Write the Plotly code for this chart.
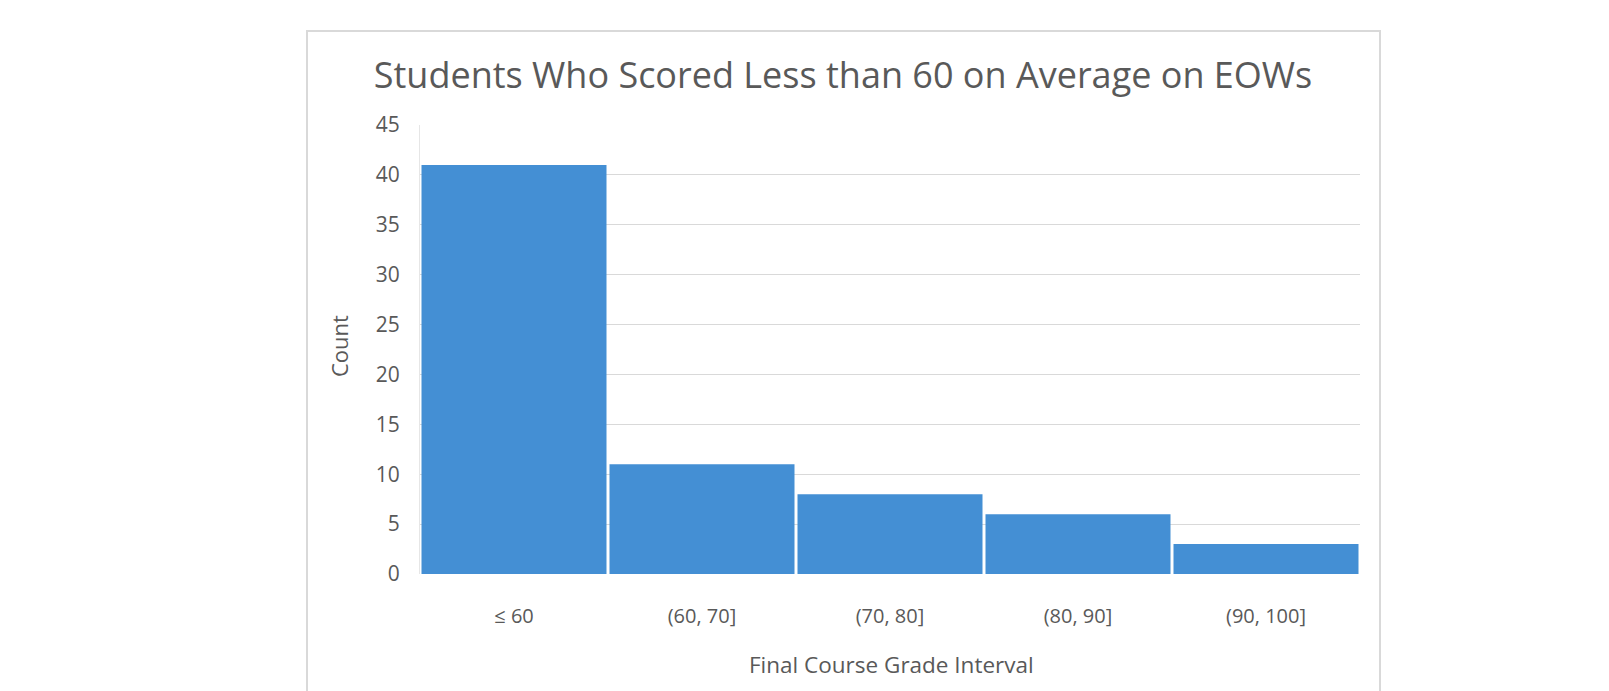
import plotly.graph_objects as go

categories = ["≤ 60", "(60, 70]", "(70, 80]", "(80, 90]", "(90, 100]"]
counts = [41, 11, 8, 6, 3]
y_ticks = [0, 5, 10, 15, 20, 25, 30, 35, 40, 45]

W, H = 1609, 691
L, R, T, B = 420, 1360, 125, 574
pw, ph = R - L, B - T

def px_x(x):
    return (x - L) / pw

def px_y(y):
    return (B - y) / ph

fig = go.Figure(go.Bar(
    x=categories, y=counts,
    marker=dict(color="#448fd4", line=dict(width=0)),
    hoverinfo="x+y",
))

font = "Open Sans"
grey = "#595959"
fig.update_layout(
    width=W, height=H,
    margin=dict(l=L, r=W - R, t=T, b=H - B),
    paper_bgcolor="white", plot_bgcolor="white",
    bargap=0.016,
    showlegend=False,
    title=dict(text="Students Who Scored Less than 60 on Average on EOWs",
               x=843 / W, xanchor="center", y=1 - 75 / H, yanchor="middle",
               font=dict(family=font, size=36, color=grey)),
    xaxis=dict(showgrid=False, showline=False, ticks="",
               tickfont=dict(family=font, size=20, color=grey),
               ticklabelstandoff=28),
    yaxis=dict(range=[0, 45], tickvals=y_ticks, showgrid=True, gridcolor="#d9d9d9", gridwidth=1,
               zeroline=False, showline=True, linecolor="#e6e6e6",
               tickfont=dict(family=font, size=21, color=grey), ticks="",
               ticklabelstandoff=15),
    annotations=[
        dict(text="Final Course Grade Interval", xref="paper", yref="paper",
             x=px_x(891), y=px_y(664), xanchor="center", yanchor="middle", showarrow=False,
             font=dict(family=font, size=22.5, color=grey)),
        dict(text="Count", xref="paper", yref="paper", textangle=-90,
             x=px_x(339), y=px_y(346), xanchor="center", yanchor="middle", showarrow=False,
             font=dict(family=font, size=22, color=grey)),
    ],
    shapes=[dict(type="rect", xref="paper", yref="paper",
                 x0=px_x(307), x1=px_x(1380), y0=px_y(720), y1=px_y(31),
                 line=dict(color="#d9d9d9", width=2), fillcolor="rgba(0,0,0,0)", layer="below")],
)

fig.write_html("out.html")
